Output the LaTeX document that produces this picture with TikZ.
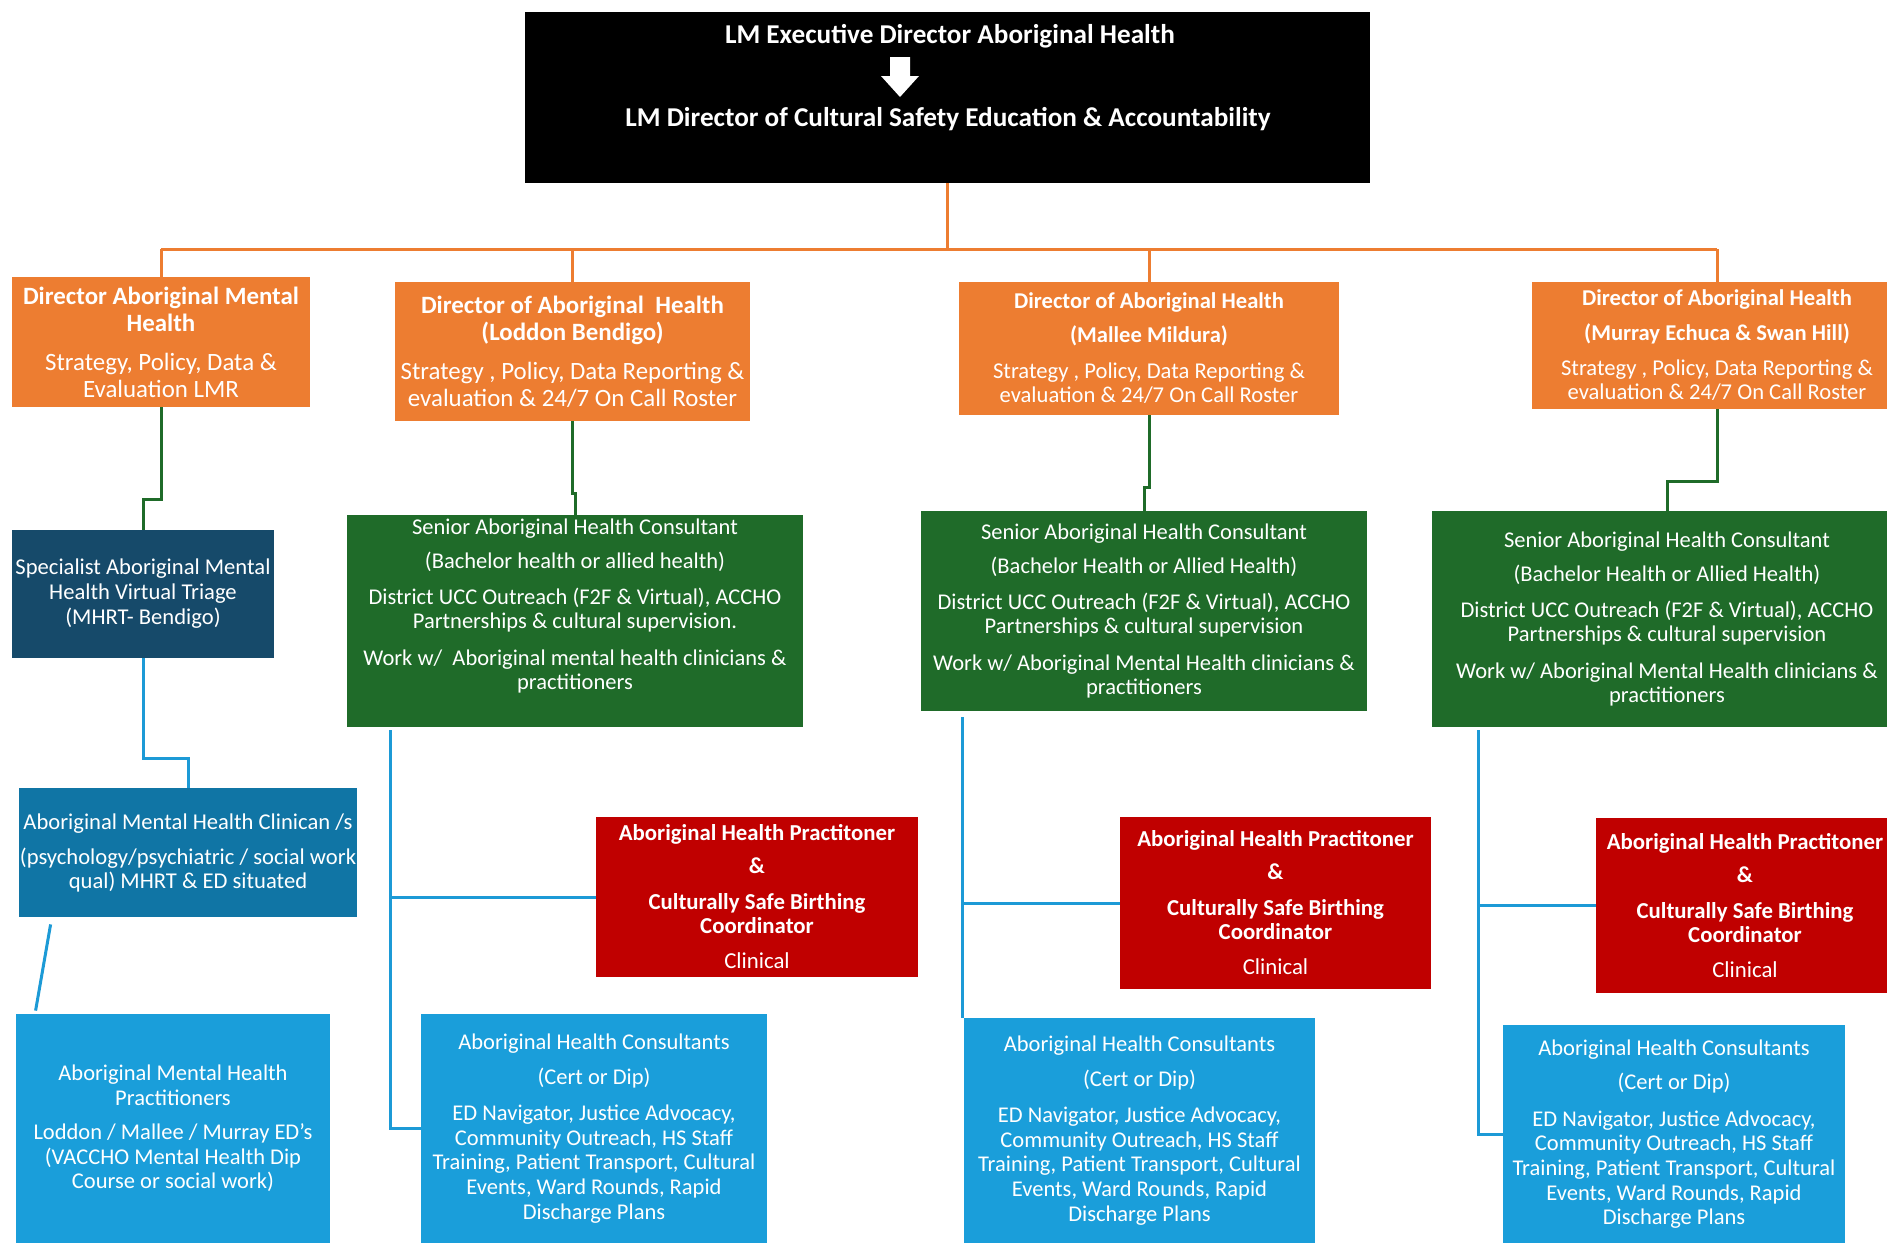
\documentclass[tikz,border=0pt]{standalone}
\usepackage{fontspec}
\setmainfont{Carlito}
\usetikzlibrary{calc}

\definecolor{orgorange}{HTML}{ED7D31}
\definecolor{orggreen}{HTML}{1F6B29}
\definecolor{orgnavy}{HTML}{164A6A}
\definecolor{orgteal}{HTML}{1075A5}
\definecolor{orgsky}{HTML}{1A9EDA}
\definecolor{orgred}{HTML}{C00000}
\definecolor{linkblue}{HTML}{1C9AD6}

\tikzset{
  box/.style={rectangle, inner sep=0pt, text=white, align=center},
  topbox/.style={box, fill=black},
  toptext/.style={inner sep=0pt, text=white, font=\fontsize{13.6pt}{15pt}\selectfont\bfseries},
  obox/.style={box, fill=orgorange},
  gbox/.style={box, fill=orggreen, font=\fontsize{11.25pt}{12pt}\selectfont},
  nbox/.style={box, fill=orgnavy, font=\fontsize{11.3pt}{12.5pt}\selectfont},
  tbox/.style={box, fill=orgteal, font=\fontsize{11.3pt}{12pt}\selectfont},
  sbox/.style={box, fill=orgsky, font=\fontsize{11.25pt}{12.3pt}\selectfont},
  rbox/.style={box, fill=orgred, font=\fontsize{11.4pt}{12pt}\selectfont},
  bigtitle/.style={font=\fontsize{12.45pt}{13.5pt}\selectfont},
  smalltitle/.style={font=\fontsize{11.3pt}{12pt}\selectfont},
  olink/.style={draw=orgorange, line width=1.5pt},
  glink/.style={draw=orggreen, line width=1.5pt},
  blink/.style={draw=linkblue, line width=1.5pt},
}

\begin{document}
\begin{tikzpicture}[x=0.5pt, y=-0.5pt]
\useasboundingbox (0,0) rectangle (1887,1243);
\fill[white] (0,0) rectangle (1887,1243);

% executive box
\node[topbox, minimum width=422.5pt, minimum height=85.5pt] (top) at (947.5,97.5) {};
\node[toptext] (t1) at (950,36) {LM Executive Director Aboriginal Health};
\node[toptext] (t2) at (948,119) {LM Director of Cultural Safety Education \& Accountability};
\fill[white] (890,57) -- (910,57) -- (910,76) -- (919,76) -- (900,97) -- (881,76) -- (890,76) -- cycle;

% directors
\node[obox, bigtitle, minimum width=149pt, minimum height=65pt] (o1) at (161,342)
  {\textbf{Director Aboriginal Mental}\\\textbf{Health}\\[6pt]Strategy, Policy, Data \&\\Evaluation LMR};
\node[obox, bigtitle, minimum width=177.5pt, minimum height=69.5pt] (o2) at (572.5,351.5)
  {\textbf{Director of Aboriginal\ \ Health}\\\textbf{(Loddon Bendigo)}\\[6pt]Strategy , Policy, Data Reporting \&\\evaluation \& 24/7 On Call Roster};
\node[obox, smalltitle, minimum width=190pt, minimum height=66.5pt] (o3) at (1149,348.5)
  {\textbf{Director of Aboriginal Health}\\[5pt]\textbf{(Mallee Mildura)}\\[6pt]Strategy , Policy, Data Reporting \&\\evaluation \& 24/7 On Call Roster};
\node[obox, smalltitle, minimum width=185pt, minimum height=63.5pt] (o4) at (1717,345.5)
  {\textbf{Director of Aboriginal Health}\\[5.5pt]\textbf{(Murray Echuca \& Swan Hill)}\\[5.5pt]Strategy , Policy, Data Reporting \&\\evaluation \& 24/7 On Call Roster};

% second level
\node[nbox, minimum width=131pt, minimum height=64pt] (d) at (143,594)
  {Specialist Aboriginal Mental\\Health Virtual Triage\\(MHRT- Bendigo)};
\node[gbox, minimum width=228pt, minimum height=106pt] (g1) at (575,621)
  {Senior Aboriginal Health Consultant\\[5pt](Bachelor health or allied health)\\[6pt]District UCC Outreach (F2F \& Virtual), ACCHO\\Partnerships \& cultural supervision.\\[6.5pt]Work w/\ \ Aboriginal mental health clinicians \&\\practitioners\\[5pt]\mbox{}};
\node[gbox, minimum width=223pt, minimum height=100pt] (g2) at (1144,611)
  {Senior Aboriginal Health Consultant\\[5pt](Bachelor Health or Allied Health)\\[6pt]District UCC Outreach (F2F \& Virtual), ACCHO\\Partnerships \& cultural supervision\\[6.5pt]Work w/ Aboriginal Mental Health clinicians \&\\practitioners};
\node[gbox, minimum width=235pt, minimum height=108pt] (g3) at (1667,619)
  {Senior Aboriginal Health Consultant\\[5pt](Bachelor Health or Allied Health)\\[6pt]District UCC Outreach (F2F \& Virtual), ACCHO\\Partnerships \& cultural supervision\\[6.5pt]Work w/ Aboriginal Mental Health clinicians \&\\practitioners};

% mental health clinicians and practitioners
\node[tbox, minimum width=169pt, minimum height=64.5pt] (m) at (188,852.5)
  {Aboriginal Mental Health Clinican /s\\[5.5pt](psychology/psychiatric / social work\\qual) MHRT \& ED situated};
\node[sbox, minimum width=157pt, minimum height=114.5pt] (p) at (173,1128.5)
  {Aboriginal Mental Health\\Practitioners\\[5pt]Loddon / Mallee / Murray ED's\\(VACCHO Mental Health Dip\\Course or social work)};

% practitioners and birthing coordinators
\node[rbox, minimum width=161pt, minimum height=80pt] (r1) at (757,897)
  {\textbf{Aboriginal Health Practitoner}\\[4.5pt]\textbf{\&}\\[6pt]\textbf{Culturally Safe Birthing}\\\textbf{Coordinator}\\[5.5pt]Clinical};
\node[rbox, minimum width=155.5pt, minimum height=86pt] (r2) at (1275.5,903)
  {\textbf{Aboriginal Health Practitoner}\\[4.5pt]\textbf{\&}\\[6pt]\textbf{Culturally Safe Birthing}\\\textbf{Coordinator}\\[5.5pt]Clinical};
\node[rbox, minimum width=149pt, minimum height=87.5pt] (r3) at (1745,905.5)
  {\textbf{Aboriginal Health Practitoner}\\[4.5pt]\textbf{\&}\\[6pt]\textbf{Culturally Safe Birthing}\\\textbf{Coordinator}\\[5.5pt]Clinical};

% health consultants
\node[sbox, minimum width=173pt, minimum height=114.5pt] (c1) at (594,1128.5)
  {Aboriginal Health Consultants\\[5pt](Cert or Dip)\\[6pt]ED Navigator, Justice Advocacy,\\Community Outreach, HS Staff\\Training, Patient Transport, Cultural\\Events, Ward Rounds, Rapid\\Discharge Plans};
\node[sbox, minimum width=175.5pt, minimum height=112.5pt] (c2) at (1139.5,1130.5)
  {Aboriginal Health Consultants\\[5pt](Cert or Dip)\\[6pt]ED Navigator, Justice Advocacy,\\Community Outreach, HS Staff\\Training, Patient Transport, Cultural\\Events, Ward Rounds, Rapid\\Discharge Plans};
\node[sbox, minimum width=171pt, minimum height=109pt] (c3) at (1674,1134)
  {Aboriginal Health Consultants\\[5pt](Cert or Dip)\\[6pt]ED Navigator, Justice Advocacy,\\Community Outreach, HS Staff\\Training, Patient Transport, Cultural\\Events, Ward Rounds, Rapid\\Discharge Plans};

% junction levels
\coordinate (bus) at (0,249);
\coordinate (j1) at (0,499);
\coordinate (j2) at (0,493);
\coordinate (j3) at (0,487);
\coordinate (j4) at (0,481);
\coordinate (j5) at (0,758);

% orange links
\draw[olink] (top.south) -- (top.south |- bus);
\draw[olink] (o1.north |- bus) -- (o4.north |- bus);
\foreach \n in {o1,o2,o3,o4} \draw[olink] (\n.north |- bus) -- (\n.north);

% green links
\draw[glink] (o1.south) -- (o1.south |- j1) -| (d.north);
\draw[glink] (o2.south) -- (o2.south |- j2) -| (g1.north);
\draw[glink] (o3.south) -- (o3.south |- j3) -| (g2.north);
\draw[glink] (o4.south) -- (o4.south |- j4) -| (g3.north);

% blue links
\draw[blink] (d.south) -- (d.south |- j5) -| (m.north);
\draw[blink] ($(m.south west)+(32,7)$) -- ($(p.north west)+(20,-3)$);

\coordinate (v1) at ($(g1.south west)+(44,3)$);
\draw[blink] (v1) |- (c1.west);
\draw[blink] (v1 |- r1.west) -- (r1.west);

\coordinate (v2) at ($(g2.south west)+(42,6)$);
\draw[blink] (v2) -- (v2 |- c2.north);
\draw[blink] (v2 |- r2.west) -- (r2.west);

\coordinate (v3) at ($(g3.south west)+(47,3)$);
\draw[blink] (v3) |- (c3.west);
\draw[blink] (v3 |- r3.west) -- (r3.west);
\end{tikzpicture}
\end{document}
